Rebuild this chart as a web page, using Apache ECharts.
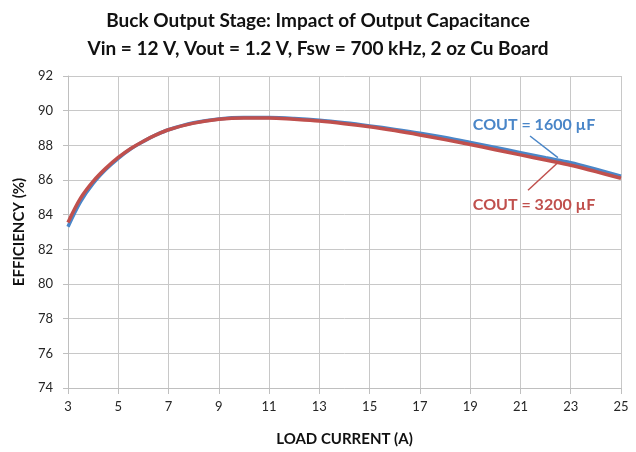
<!DOCTYPE html>
<html>
<head>
<meta charset="utf-8">
<script src="https://cdn.jsdelivr.net/npm/echarts@6/dist/echarts.min.js"></script>
<style>html,body{margin:0;padding:0;background:#fff}#c{width:636px;height:452px}</style>
</head>
<body>
<div id="c"></div>
<script>
const titleLines = ['Buck Output Stage: Impact of Output Capacitance', 'Vin = 12 V, Vout = 1.2 V, Fsw = 700 kHz, 2 oz Cu Board'];
const loadCurrent = [3, 3.5, 4, 4.5, 5, 5.5, 6, 6.5, 7, 8, 9, 10, 11, 12, 13, 14, 15, 16, 17, 18, 19, 20, 21, 22, 23, 24, 25];
const eff1600 = [83.3, 84.75, 85.8, 86.6, 87.25, 87.8, 88.23, 88.6, 88.9, 89.3, 89.52, 89.6, 89.6, 89.55, 89.45, 89.3, 89.12, 88.92, 88.7, 88.45, 88.17, 87.88, 87.58, 87.28, 87.0, 86.62, 86.22];
const eff3200 = [83.55, 84.95, 85.92, 86.67, 87.3, 87.82, 88.24, 88.6, 88.9, 89.28, 89.5, 89.58, 89.58, 89.5, 89.4, 89.25, 89.07, 88.85, 88.6, 88.33, 88.05, 87.75, 87.45, 87.15, 86.85, 86.48, 86.1];
const seriesNames = ['COUT = 1600 µF', 'COUT = 3200 µF'];
const arrow1600 = [[21.38, 88.54], [22.49, 87.29]];
const arrow3200 = [[21.30, 85.41], [22.45, 86.95]];
const label1600 = [21.54, 89.16];
const label3200 = [21.54, 84.56];
const xTicks = {min: 3, max: 25, interval: 2};
const yTicks = {min: 74, max: 92, interval: 2};

const FONT = 'Lato';
const BLUE = '#4a86c8';
const RED = '#c0504d';
const chart = echarts.init(document.getElementById('c'), null, {renderer: 'canvas'});

function pairs(xs, ys) { return xs.map((x, i) => [x, ys[i]]); }

chart.setOption({
  animation: false,
  backgroundColor: '#fff',
  title: {
    text: titleLines.join('\n'),
    left: 'center', top: 2,
    textStyle: {fontFamily: FONT, fontWeight: 'bold', fontSize: 19, lineHeight: 28, color: '#111'}
  },
  grid: {left: 68, right: 15, top: 76, bottom: 59},
  xAxis: {
    type: 'value', min: xTicks.min, max: xTicks.max, interval: xTicks.interval,
    name: 'LOAD CURRENT (A)', nameLocation: 'middle', nameGap: 44,
    nameTextStyle: {fontFamily: FONT, fontWeight: 'bold', fontSize: 15, color: '#111'},
    axisLine: {show: true, lineStyle: {color: '#bfbfbf', width: 1}},
    axisTick: {show: true, length: 6, lineStyle: {color: '#bfbfbf'}},
    axisLabel: {fontFamily: FONT, fontSize: 13, color: '#262626', margin: 12},
    splitLine: {show: true, lineStyle: {color: '#c8c8c8', width: 1}}
  },
  yAxis: {
    type: 'value', min: yTicks.min, max: yTicks.max, interval: yTicks.interval,
    name: 'EFFICIENCY (%)', nameLocation: 'middle', nameGap: 40, nameRotate: 90,
    nameTextStyle: {fontFamily: FONT, fontWeight: 'bold', fontSize: 15, color: '#111'},
    axisLine: {show: true, lineStyle: {color: '#bfbfbf', width: 1}},
    axisTick: {show: true, length: 5, lineStyle: {color: '#bfbfbf'}},
    axisLabel: {fontFamily: FONT, fontSize: 13, color: '#262626', margin: 15},
    splitLine: {show: true, lineStyle: {color: '#c8c8c8', width: 1}}
  },
  series: [
    {
      name: seriesNames[0], type: 'line', smooth: 0.35, symbol: 'none',
      data: pairs(loadCurrent, eff1600),
      lineStyle: {color: BLUE, width: 3.5},
      markLine: {
        silent: true, symbol: ['none', 'arrow'], symbolSize: [0, 9],
        label: {show: false},
        lineStyle: {color: BLUE, width: 1.5, type: 'solid'},
        data: [[{coord: arrow1600[0]}, {coord: arrow1600[1]}]]
      },
      markPoint: {
        silent: true, symbol: 'circle', symbolSize: 0,
        label: {show: true, formatter: seriesNames[0], fontFamily: FONT, fontWeight: 'bold', fontSize: 16, color: BLUE},
        data: [{coord: label1600}]
      }
    },
    {
      name: seriesNames[1], type: 'line', smooth: 0.35, symbol: 'none',
      data: pairs(loadCurrent, eff3200),
      lineStyle: {color: RED, width: 3.5},
      markLine: {
        silent: true, symbol: ['none', 'arrow'], symbolSize: [0, 9],
        label: {show: false},
        lineStyle: {color: RED, width: 1.5, type: 'solid'},
        data: [[{coord: arrow3200[0]}, {coord: arrow3200[1]}]]
      },
      markPoint: {
        silent: true, symbol: 'circle', symbolSize: 0,
        label: {show: true, formatter: seriesNames[1], fontFamily: FONT, fontWeight: 'bold', fontSize: 16, color: RED},
        data: [{coord: label3200}]
      }
    }
  ]
});
</script>
</body>
</html>
